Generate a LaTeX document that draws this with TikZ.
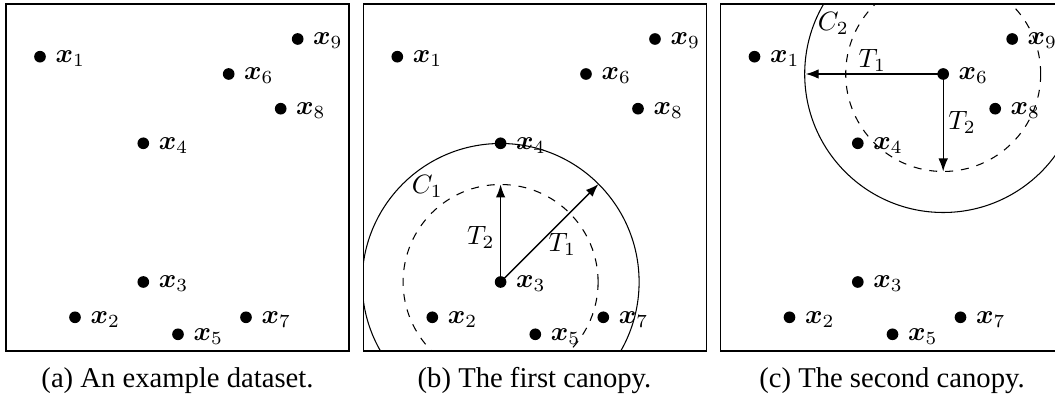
\documentclass[tikz,border=0pt]{standalone}
\usepackage{amsmath}
\usepackage{bm}
\usepackage[no-math]{fontspec}
\setmainfont{Liberation Serif}
\usetikzlibrary{arrows.meta,calc}
\tikzset{
  dot/.style={circle,fill=black,inner sep=0pt,minimum size=4.4pt},
  ptlabel/.style={anchor=west,inner sep=0pt},
  framebox/.style={draw=black,line width=0.4pt},
  canopy/.style={draw=black,line width=0.4pt},
  innercanopy/.style={draw=black,dashed,line width=0.4pt},
  radiusarrow/.style={-{Latex[length=4.9pt,width=3.6pt]},line width=0.5pt},
  captiontext/.style={anchor=base,inner sep=0pt,font=\fontsize{10.8}{13}\selectfont},
  mathlbl/.style={inner sep=0pt}
}
% #1 = name prefix, #2 = horizontal offset
\newcommand{\plotpoints}[2]{%
  \foreach \n/\ptx/\pty in {1/40/56.7,2/75/317.3,3/143.3/282,4/143.3/143.3,5/178/334.3,6/228.7/74,7/246/317.3,8/280.7/108.7,9/297.7/39}{%
    \node[dot] (#1\n) at (\ptx+#2,\pty) {};
    \node[ptlabel] (#1l\n) at (\ptx+#2+15,\pty+2) {$\bm{x}_{\n}$};
  }%
}
\begin{document}
\begin{tikzpicture}[x=0.377pt,y=-0.377pt]
\useasboundingbox (0,0) rectangle (1055,403);
\clip (0,0) rectangle (1055,403);

% ---------- panel (a)
\draw[framebox] (6,4) rectangle (349,351);
\plotpoints{a}{0}
\node[captiontext] (capa) at (177.5,388) {(a) An example dataset.};

% ---------- panel (b)
\draw[framebox] (363.3,4) rectangle (706.3,351);
\plotpoints{b}{357.3}
\begin{scope}
  \clip (363.3,4) rectangle (706.3,351);
  \draw[canopy] (b3.center) circle[radius=138.5];
  \draw[innercanopy] (b3.center) circle[radius=97.5];
\end{scope}
\coordinate (bT2) at ($(b3.center)+(0,-97.5)$);
\coordinate (bT1) at ($(b3.center)+(97.9,-97.9)$);
\draw[radiusarrow] (b3.center) -- (bT2);
\draw[radiusarrow] (b3.center) -- (bT1);
\node[mathlbl] (C1) at (427.3,186) {$C_1$};
\node[mathlbl] (bt2) at (480.7,237.3) {$T_2$};
\node[mathlbl] (bt1) at (562.3,244) {$T_1$};
\node[captiontext] (capb) at (534.5,388) {(b) The first canopy.};

% ---------- panel (c)
\draw[framebox] (720.5,4) rectangle (1063.5,351);
\plotpoints{c}{714.5}
\begin{scope}
  \clip (720.5,4) rectangle (1063.5,351);
  \draw[canopy] (c6.center) circle[radius=138.5];
  \draw[innercanopy] (c6.center) circle[radius=97.5];
\end{scope}
\coordinate (cT1) at ($(c6.center)+(-137.5,0)$);
\coordinate (cT2) at ($(c6.center)+(0,97.5)$);
\draw[radiusarrow] (c6.center) -- (cT1);
\draw[radiusarrow] (c6.center) -- (cT2);
\node[mathlbl] (C2) at (833.3,23.3) {$C_2$};
\node[mathlbl] (ct1) at (872.3,60.7) {$T_1$};
\node[mathlbl] (ct2) at (962,122.3) {$T_2$};
\node[captiontext] (capc) at (892,388) {(c) The second canopy.};
\end{tikzpicture}
\end{document}
